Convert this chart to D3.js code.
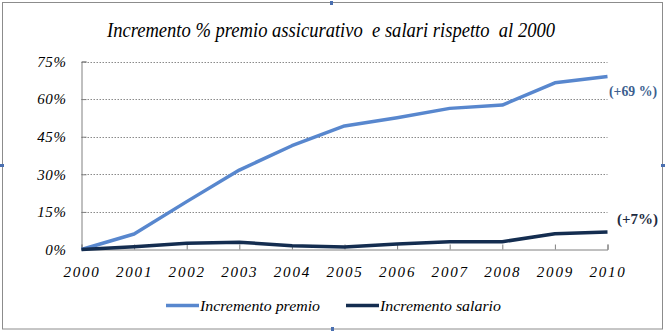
<!DOCTYPE html>
<html>
<head>
<meta charset="utf-8">
<script src="https://cdn.jsdelivr.net/npm/d3@7"></script>
<style>
  html, body { margin: 0; padding: 0; background: #fff; }
  svg { display: block; }
</style>
</head>
<body>
<svg id="chart" width="665" height="331"></svg>
<script>
// Years on the x axis
const years = ["2000","2001","2002","2003","2004","2005","2006","2007","2008","2009","2010"];
// Cumulative % increase vs 2000
const premio  = [0, 6.2, 19.1, 31.7, 41.4, 49.3, 52.6, 56.3, 57.6, 66.5, 69];
const salario = [0, 1.1, 2.5, 2.9, 1.5, 1.0, 2.2, 3.1, 3.1, 6.3, 7];
const yTicks = [0, 15, 30, 45, 60, 75];
const seriesNames = ["Incremento premio", "Incremento salario"];
const endLabels = ["(+69 %)", "(+7%)"];
const colors = ["#5887CE", "#142D50"];

const FONT = '"Times New Roman"';
const svg = d3.select("#chart");

// outer chart frame
svg.append("rect")
  .attr("x", 2.5).attr("y", 2.5).attr("width", 660).attr("height", 326.5)
  .attr("fill", "#fff").attr("stroke", "#8c8c8c").attr("stroke-width", 1);

// frame handles
const handles = [[330, 1, 3, 4], [331, 327, 3, 4], [0, 164, 4, 3], [661, 164, 4, 3]];
svg.selectAll("rect.h").data(handles).join("rect").attr("class", "h")
  .attr("x", d => d[0]).attr("y", d => d[1]).attr("width", d => d[2]).attr("height", d => d[3])
  .attr("fill", "#4a6fb0");

const x = d3.scalePoint().domain(years).range([81.5, 607.5]);
const y = d3.scaleLinear().domain([0, 75]).range([249.5, 61.5]);

// title
svg.append("text")
  .attr("x", 107).attr("y", 37)
  .style("font-family", FONT).style("font-style", "italic")
  .attr("font-size", 20).attr("fill", "#000")
  .style("white-space", "pre")
  .attr("textLength", 448).attr("lengthAdjust", "spacingAndGlyphs")
  .text("Incremento % premio assicurativo  e salari rispetto  al 2000");

// gridlines
svg.append("g").selectAll("line").data(yTicks.filter(d => d > 0)).join("line")
  .attr("x1", 81.5).attr("x2", 607.5)
  .attr("y1", d => Math.round(y(d)) + 0.5).attr("y2", d => Math.round(y(d)) + 0.5)
  .attr("stroke", "#8a8a8a").attr("stroke-width", 1).attr("stroke-dasharray", "1.5,1.5");

// y axis
const yAxis = svg.append("g").attr("transform", "translate(81.5,0)")
  .call(d3.axisLeft(y).tickValues(yTicks).tickSize(-5).tickPadding(15)
    .tickFormat(d => d + "%"));
yAxis.select(".domain").attr("stroke", "#808080");
yAxis.selectAll(".tick line").attr("stroke", "#808080");
yAxis.selectAll(".tick text")
  .style("font-family", FONT).style("font-style", "italic")
  .attr("font-size", 15).attr("fill", "#000").attr("letter-spacing", 0.6);

// x axis
const xAxis = svg.append("g").attr("transform", "translate(0,249.5)")
  .call(d3.axisBottom(x).tickSize(-5).tickPadding(17));
xAxis.select(".domain").attr("stroke", "#808080");
xAxis.selectAll(".tick line").attr("stroke", "#808080");
xAxis.selectAll(".tick text")
  .style("font-family", FONT).style("font-style", "italic")
  .attr("font-size", 15).attr("fill", "#000").attr("letter-spacing", 1.8);

// lines
const line = d3.line().x((d, i) => x(years[i])).y(d => y(d));
[premio, salario].forEach((s, k) => {
  svg.append("path").datum(s)
    .attr("d", line)
    .attr("fill", "none")
    .attr("stroke", colors[k])
    .attr("stroke-width", 3.5)
    .attr("stroke-linejoin", "round");
});

// end-of-series value labels
svg.append("text")
  .attr("x", 609).attr("y", y(premio[10]) + 19)
  .style("font-family", FONT).style("font-weight", "bold")
  .attr("font-size", 15).attr("fill", "#3d5f8f")
  .attr("textLength", 48).attr("lengthAdjust", "spacingAndGlyphs")
  .text(endLabels[0]);
svg.append("text")
  .attr("x", 617).attr("y", y(salario[10]) - 8)
  .style("font-family", FONT).style("font-weight", "bold")
  .attr("font-size", 15).attr("fill", "#1c2a40")
  .attr("textLength", 41).attr("lengthAdjust", "spacingAndGlyphs")
  .text(endLabels[1]);

// legend
const legendItems = [
  {x: 166, w: 120, name: seriesNames[0], c: colors[0]},
  {x: 346, w: 121, name: seriesNames[1], c: colors[1]}
];
const lg = svg.append("g").selectAll("g").data(legendItems).join("g");
lg.append("line")
  .attr("x1", d => d.x).attr("x2", d => d.x + 33)
  .attr("y1", 305.5).attr("y2", 305.5)
  .attr("stroke", d => d.c).attr("stroke-width", 3.5);
lg.append("text")
  .attr("x", d => d.x + 34).attr("y", 311)
  .style("font-family", FONT).style("font-style", "italic")
  .attr("font-size", 15).attr("fill", "#000")
  .attr("textLength", d => d.w).attr("lengthAdjust", "spacingAndGlyphs")
  .text(d => d.name);
</script>
</body>
</html>
